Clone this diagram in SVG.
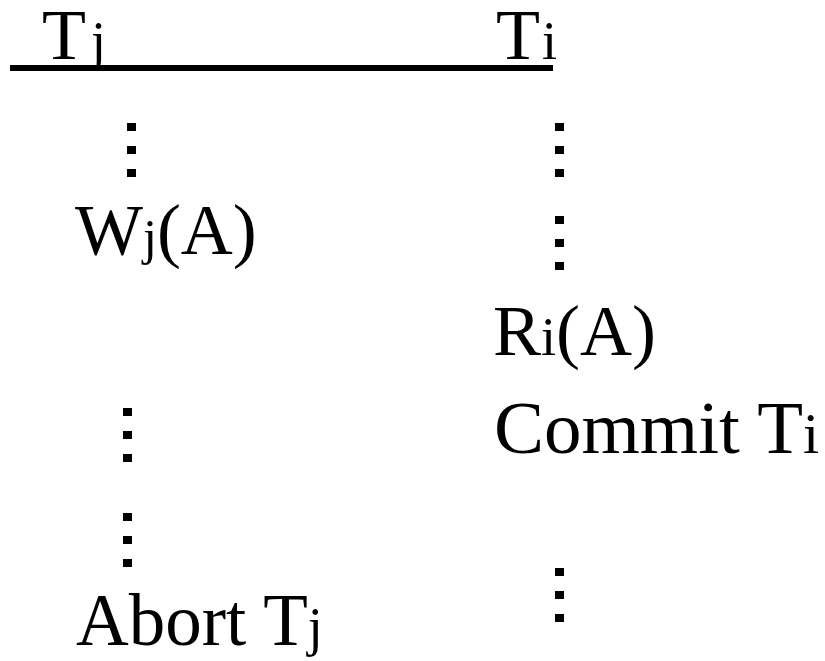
<svg xmlns="http://www.w3.org/2000/svg" width="825" height="661" viewBox="0 0 825 661">
<style>
text{font-family:"Liberation Serif","Times New Roman",serif;font-size:72px;fill:#000}
.s{font-size:54px}
.d{fill:#000}
</style>
<defs>
<g id="dots"><rect class="d" x="0" y="0" width="9" height="8"/><rect class="d" x="0" y="23" width="9" height="8"/><rect class="d" x="0" y="46" width="9" height="8"/></g>
</defs>
<rect width="825" height="661" fill="#fff"/>
<g id="header">
<text x="42" y="59">T<tspan class="s" dx="5">j</tspan></text>
<text x="496" y="59">T<tspan class="s" dx="2">i</tspan></text>
<rect x="10" y="65" width="543" height="6" fill="#000"/>
</g>
<g id="left">
<use href="#dots" x="127" y="123"/>
<text x="75" y="254">W<tspan style="font-size:50px">j</tspan>(A)</text>
<use href="#dots" x="123" y="408"/>
<use href="#dots" x="123" y="513"/>
<text x="76" y="645" style="font-size:73px">Abort T<tspan class="s">j</tspan></text>
</g>
<g id="right">
<use href="#dots" x="555" y="123"/>
<use href="#dots" x="555" y="216"/>
<text x="493" y="355">R<tspan class="s">i</tspan>(A)</text>
<text x="494" y="453" style="font-size:75px">Commit T<tspan style="font-size:58px">i</tspan></text>
<use href="#dots" x="555" y="568"/>
</g>
<g id="connectors"></g>
</svg>
